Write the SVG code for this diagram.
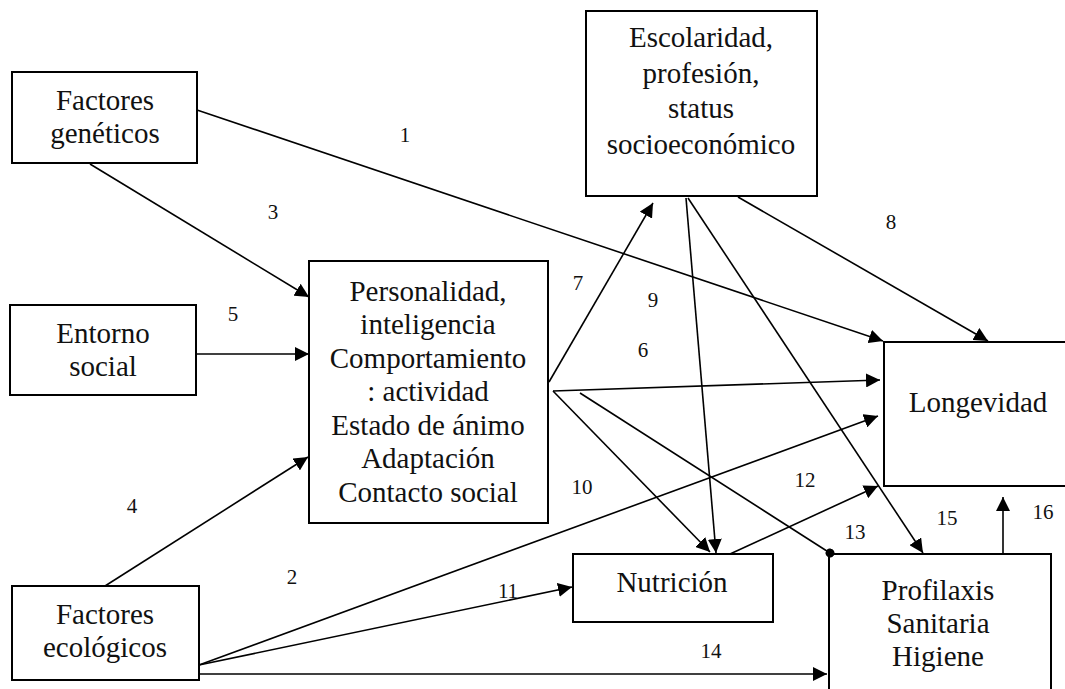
<svg xmlns="http://www.w3.org/2000/svg" width="1065" height="689" viewBox="0 0 1065 689">
<defs>
<style>
.box{fill:#fff;stroke:#000;stroke-width:2}
.t{font-size:29px;fill:#111;text-anchor:middle}
.n{font-size:21px;fill:#111;text-anchor:middle}
.c line{stroke:#000;stroke-width:1.6;marker-end:url(#ah)}
</style>
<marker id="ah" viewBox="0 0 10 10" refX="10" refY="5" markerWidth="14" markerHeight="14" markerUnits="userSpaceOnUse" orient="auto">
<path d="M0,0 L10,5 L0,10 z" fill="#000"/>
</marker>
<marker id="dot" viewBox="0 0 10 10" refX="5" refY="5" markerWidth="9" markerHeight="9" markerUnits="userSpaceOnUse" orient="auto">
<circle cx="5" cy="5" r="5" fill="#000"/>
</marker>
</defs>
<rect width="1065" height="689" fill="#fff"/>
<g font-family="'Liberation Serif', 'Times New Roman', 'DejaVu Serif', serif">
<g id="gen"><rect class="box" x="12" y="72" width="185" height="91"/><text class="t" x="105" y="110">Factores</text><text class="t" x="105" y="143">genéticos</text></g>
<g id="ent"><rect class="box" x="10" y="305" width="186" height="90"/><text class="t" x="103" y="343">Entorno</text><text class="t" x="103" y="376">social</text></g>
<g id="eco"><rect class="box" x="12" y="586" width="187" height="94"/><text class="t" x="105" y="624">Factores</text><text class="t" x="105" y="657">ecológicos</text></g>
<g id="pers"><rect class="box" x="309" y="261" width="239" height="262"/>
<text class="t" x="428" y="301">Personalidad,</text>
<text class="t" x="428" y="334">inteligencia</text>
<text class="t" x="428" y="368">Comportamiento</text>
<text class="t" x="428" y="401">: actividad</text>
<text class="t" x="428" y="435">Estado de ánimo</text>
<text class="t" x="428" y="468">Adaptación</text>
<text class="t" x="428" y="502">Contacto social</text></g>
<g id="esc"><rect class="box" x="586" y="11" width="231" height="185"/>
<text class="t" x="701" y="47">Escolaridad,</text>
<text class="t" x="701" y="83">profesión,</text>
<text class="t" x="701" y="118">status</text>
<text class="t" x="701" y="154">socioeconómico</text></g>
<g id="lon"><rect class="box" x="884" y="342" width="190" height="144"/><text class="t" x="978" y="412">Longevidad</text></g>
<g id="nut"><rect class="box" x="573" y="554" width="200" height="68"/><text class="t" x="672" y="592">Nutrición</text></g>
<g id="pro"><rect class="box" x="829" y="554" width="222" height="150"/>
<text class="t" x="938" y="600">Profilaxis</text>
<text class="t" x="938" y="633">Sanitaria</text>
<text class="t" x="938" y="666">Higiene</text></g>
<g id="connectors" class="c">
<line x1="197" y1="110" x2="883" y2="341"/>
<line x1="90" y1="164" x2="309" y2="297"/>
<line x1="196" y1="354" x2="309" y2="354"/>
<line x1="105" y1="586" x2="308" y2="457"/>
<line x1="199" y1="665" x2="878" y2="416"/>
<line x1="199" y1="665" x2="572" y2="587"/>
<line x1="199" y1="674" x2="827" y2="674"/>
<line x1="549" y1="382" x2="653" y2="203"/>
<line x1="553" y1="391" x2="880" y2="380"/>
<line x1="686" y1="198" x2="716" y2="553"/>
<line x1="688" y1="198" x2="923" y2="553"/>
<line x1="738" y1="197" x2="988" y2="341"/>
<line x1="553" y1="391" x2="710" y2="552"/>
<line x1="730" y1="554" x2="878" y2="486"/>
<line x1="580" y1="393" x2="830" y2="553" style="marker-end:url(#dot)"/>
<line x1="1003" y1="554" x2="1003" y2="497"/>
</g>
<g id="labels">
<text class="n" x="405" y="142">1</text>
<text class="n" x="292" y="584">2</text>
<text class="n" x="273" y="219">3</text>
<text class="n" x="132" y="513">4</text>
<text class="n" x="233" y="321">5</text>
<text class="n" x="643" y="357">6</text>
<text class="n" x="578" y="290">7</text>
<text class="n" x="891" y="229">8</text>
<text class="n" x="653" y="307">9</text>
<text class="n" x="582" y="494">10</text>
<text class="n" x="508" y="598">11</text>
<text class="n" x="805" y="487">12</text>
<text class="n" x="855" y="539">13</text>
<text class="n" x="711" y="658">14</text>
<text class="n" x="947" y="525">15</text>
<text class="n" x="1043" y="519">16</text>
</g>
</g>
</svg>
